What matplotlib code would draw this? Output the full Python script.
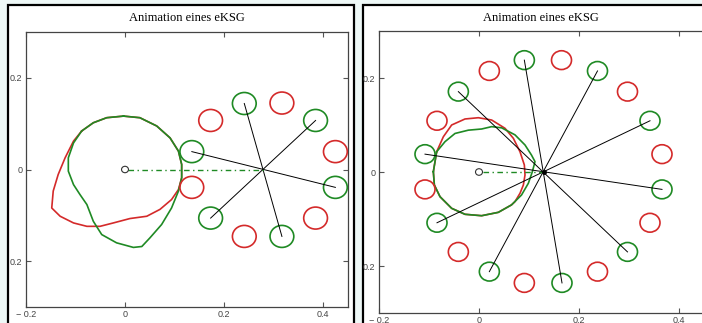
import numpy as np
import matplotlib.pyplot as plt
from matplotlib.patches import Circle, Rectangle

# ---- data ----
title = "Animation eines eKSG"
xticks = [-0.2, 0, 0.2, 0.4]
xtick_labels = ["\u2212 0.2", "0", "0.2", "0.4"]
yticks = [-0.2, 0, 0.2]
ytick_labels = ["0.2", "0", "0.2"]

# left frame: ring of 12 rollers around the hub
left_hub = (0.28, 0.0)
left_green_x = [0.135, 0.241, 0.385, 0.425, 0.317, 0.173]
left_green_y = [0.039, 0.144, 0.107, -0.039, -0.146, -0.106]
left_red_x = [0.173, 0.317, 0.425, 0.385, 0.241, 0.135]
left_red_y = [0.107, 0.145, 0.039, -0.106, -0.146, -0.039]
# pairs of green rollers joined by a line through the hub
left_links = [(0, 3), (1, 4), (2, 5)]

left_green_curve_x = [-0.003, 0.030, 0.064, 0.091, 0.108, 0.1145, 0.1145, 0.108, 0.094,
                      0.074, 0.0505, 0.034, 0.017, -0.017, -0.047, -0.064, -0.077, -0.091,
                      -0.104, -0.1145, -0.1145, -0.104, -0.0875, -0.064, -0.037, -0.003]
left_green_curve_y = [0.1165, 0.113, 0.095, 0.069, 0.040, 0.011, -0.018, -0.047, -0.084,
                      -0.120, -0.149, -0.168, -0.170, -0.160, -0.142, -0.113, -0.0765, -0.0546,
                      -0.033, -0.0036, 0.0255, 0.058, 0.084, 0.102, 0.113, 0.1165]
left_red_curve_x = [-0.0875, -0.104, -0.121, -0.135, -0.145, -0.148, -0.131, -0.104, -0.077,
                    -0.0505, -0.0236, 0.010, 0.044, 0.0707, 0.094, 0.108, 0.1145, 0.1145,
                    0.108, 0.091, 0.064, 0.030, -0.003, -0.037, -0.064, -0.0875]
left_red_curve_y = [0.084, 0.062, 0.0255, -0.011, -0.047, -0.084, -0.102, -0.1166, -0.124,
                    -0.124, -0.1166, -0.107, -0.102, -0.087, -0.0656, -0.0437, -0.018, 0.011,
                    0.040, 0.069, 0.095, 0.113, 0.1165, 0.113, 0.102, 0.084]

# right frame: ring of 20 rollers
right_hub = (0.13, 0.0)
right_green_x = [0.0907, 0.237, 0.342, 0.366, 0.297, 0.166, 0.0207, -0.084, -0.108, -0.0413]
right_green_y = [0.238, 0.215, 0.109, -0.037, -0.170, -0.236, -0.212, -0.108, 0.038, 0.171]
right_red_x = [0.165, 0.297, 0.366, 0.342, 0.237, 0.0907, -0.0413, -0.108, -0.084, 0.0207]
right_red_y = [0.238, 0.171, 0.038, -0.108, -0.212, -0.236, -0.170, -0.037, 0.109, 0.215]
right_links = [(0, 5), (1, 6), (2, 7), (3, 8), (4, 9)]

right_green_curve_x = [-0.0913, -0.0847, -0.068, -0.048, -0.0213, 0.0053, 0.0253, 0.0453,
                       0.072, 0.092, 0.105, 0.112, 0.1067, 0.0987, 0.085, 0.065, 0.0387,
                       0.0053, -0.028, -0.0547, -0.078, -0.0893, -0.0913]
right_green_curve_y = [0.0006, 0.043, 0.0645, 0.082, 0.089, 0.0915, 0.0965, 0.094,
                       0.079, 0.0575, 0.036, 0.022, 0.0006, -0.024, -0.049, -0.070, -0.0858,
                       -0.093, -0.090, -0.0773, -0.0525, -0.0277, 0.0006]
right_red_curve_x = [-0.0847, -0.0713, -0.0547, -0.028, -0.0013, 0.0253, 0.052, 0.0687,
                     0.082, 0.0907, 0.092, 0.0887, 0.082, 0.072, 0.065, 0.0387, 0.0053,
                     -0.028, -0.0547, -0.078, -0.0893, -0.0913, -0.0847]
right_red_curve_y = [0.043, 0.075, 0.100, 0.1128, 0.1155, 0.1106, 0.093, 0.0717,
                     0.043, 0.015, -0.0064, -0.0277, -0.0453, -0.063, -0.070, -0.0858, -0.093,
                     -0.090, -0.0773, -0.0525, -0.0277, 0.0006, 0.043]

GREEN = "#1f8a24"
RED = "#d42a2a"
W, H = 702, 323

fig = plt.figure(figsize=(W / 100, H / 100), dpi=100, facecolor="#eef8f7")


def px_box(x0, y0, x1, y1):
    # pixel box (top-left origin) -> figure fraction [l, b, w, h]
    return [x0 / W, (H - y1) / H, (x1 - x0) / W, (y1 - y0) / H]


# white panel frames
for x0, x1 in [(8, 354), (363, 740)]:
    l, b, w, h = px_box(x0, 5, x1, 340)
    fig.add_artist(Rectangle((l, b), w, h, transform=fig.transFigure,
                             facecolor="white", edgecolor="black", lw=1.6, zorder=-1))


def draw_panel(ax, hub, gx, gy, rx, ry, links, gcx, gcy, rcx, rcy, r):
    ax.plot(rcx, rcy, color=RED, lw=1.2, zorder=2)
    ax.plot(gcx, gcy, color=GREEN, lw=1.2, zorder=3)
    for x, y in zip(rx, ry):
        ax.add_patch(Circle((x, y), r, fill=False, ec=RED, lw=1.2, zorder=3))
    for x, y in zip(gx, gy):
        ax.add_patch(Circle((x, y), r, fill=False, ec=GREEN, lw=1.2, zorder=3))
    for i, j in links:
        ax.plot([gx[i], gx[j]], [gy[i], gy[j]], color="black", lw=0.7, zorder=4)
    ax.plot([0.007, hub[0]], [0, 0], color=GREEN, lw=1.0,
            linestyle=(0, (4, 2.5, 1, 2.5)), zorder=4)
    ax.add_patch(Circle((0, 0), 0.007, fill=False, ec="#333333", lw=0.8, zorder=5))
    ax.set_ylim(-0.3, 0.3)
    ax.set_xticks(xticks)
    ax.set_xticklabels(xtick_labels)
    ax.set_yticks(yticks)
    ax.set_yticklabels(ytick_labels)
    ax.tick_params(direction="in", length=3.5, width=0.8, colors="#555555",
                   labelsize=6.5, labelcolor="#444444", top=True, right=True, pad=2.5)
    for s in ax.spines.values():
        s.set_color("#444444")
        s.set_linewidth(0.9)
    for lab in ax.get_xticklabels() + ax.get_yticklabels():
        lab.set_family("Liberation Sans")


axl = fig.add_axes(px_box(26, 32, 348, 307))
draw_panel(axl, left_hub, left_green_x, left_green_y, left_red_x, left_red_y, left_links,
           left_green_curve_x, left_green_curve_y, left_red_curve_x, left_red_curve_y, 0.024)
axl.set_xlim(-0.2, 0.4505)

axr = fig.add_axes(px_box(379, 31, 720, 313))
draw_panel(axr, right_hub, right_green_x, right_green_y, right_red_x, right_red_y, right_links,
           right_green_curve_x, right_green_curve_y, right_red_curve_x, right_red_curve_y, 0.02)
axr.plot([right_hub[0]], [right_hub[1]], "o", color="black", ms=2.5, zorder=5)
axr.set_xlim(-0.2, 0.482)

for xc in [187, 541]:
    fig.text(xc / W, (H - 18) / H, title, ha="center", va="center",
             family="Liberation Serif", fontsize=9)

fig.savefig("out.png", dpi=100, facecolor=fig.get_facecolor())
